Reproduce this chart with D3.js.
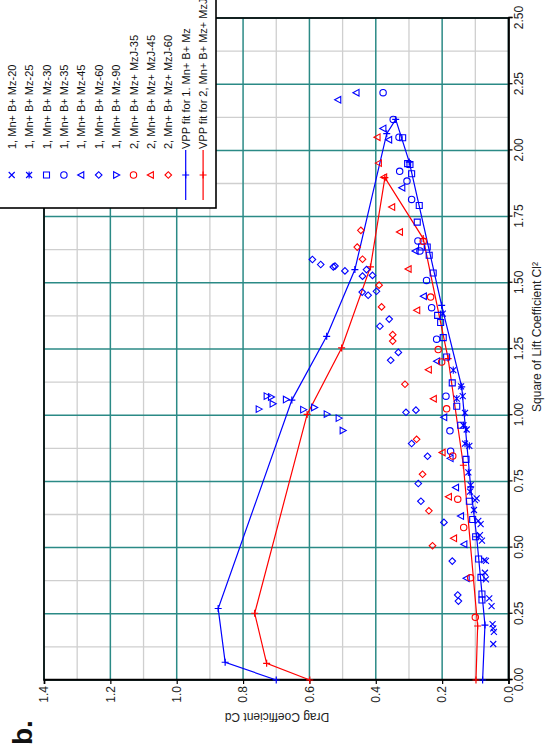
<!DOCTYPE html>
<html>
<head>
<meta charset="utf-8">
<script src="https://cdn.jsdelivr.net/npm/d3@7"></script>
<style>
  html, body { margin: 0; padding: 0; background: #fff; }
  svg { display: block; font-family: "Liberation Sans", Arial, sans-serif; }
</style>
</head>
<body>
<svg id="chart" width="556" height="747"></svg>
<script>
// ---- tick values ----
const cl2Ticks = [0, 0.25, 0.5, 0.75, 1.0, 1.25, 1.5, 1.75, 2.0, 2.25, 2.5];
const cl2Minor = [0.125, 0.375, 0.625, 0.875, 1.125, 1.375, 1.625, 1.875, 2.125, 2.375];
const cdTicks = [0, 0.2, 0.4, 0.6, 0.8, 1.0, 1.2, 1.4];
const cdMinor = [0.1, 0.3, 0.5, 0.7, 0.9, 1.1, 1.3];

// ---- measured points: [Cl², Cd] ----
const mz20 = [[0.679,0.101],[0.686,0.096],[0.601,0.091],[0.589,0.084],[0.547,0.086],[0.526,0.080],
  [0.453,0.073],[0.450,0.068],[0.405,0.071],[0.380,0.068],[0.308,0.058],[0.279,0.051],
  [0.211,0.048],[0.195,0.046],[0.182,0.044],[0.136,0.046]];
const mz25 = [[1.384,0.198],[1.170,0.1665],[1.109,0.143],[1.063,0.156],[1.072,0.138],[1.009,0.131],
  [0.962,0.136],[0.946,0.126],[0.893,0.131],[0.884,0.118],[0.784,0.121],[0.736,0.114],
  [0.711,0.116],[0.642,0.104]];
const mz30 = [[2.048,0.319],[1.950,0.304],[1.947,0.297],[1.912,0.292],[1.792,0.269],[1.729,0.275],
  [1.635,0.262],[1.635,0.245],[1.604,0.239],[1.537,0.227],[1.377,0.2136],[1.350,0.2045],
  [1.293,0.1967],[1.220,0.1865],[1.122,0.1695],[1.034,0.156],[0.962,0.144],[0.833,0.128],
  [0.675,0.118],[0.606,0.108],[0.541,0.099],[0.457,0.090],[0.3875,0.083],[0.3245,0.080],[0.302,0.080]];
const mz35 = [[2.218,0.378],[2.117,0.3475],[2.050,0.330],[1.921,0.328],[1.884,0.306],[1.815,0.292],
  [1.658,0.273],[1.620,0.267],[1.509,0.247],[1.406,0.2317],[1.287,0.2166],[1.072,0.1885],
  [0.941,0.1765],[0.864,0.1745]];
const mz45 = [[2.191,0.513],[2.218,0.458],[2.083,0.377],[2.040,0.3596],[1.859,0.320],[1.620,0.280],
  [1.449,0.255],[1.204,0.215],[0.992,0.1936],[0.837,0.1745],[0.727,0.158],[0.619,0.143],
  [0.513,0.133],[0.384,0.126]];
const mz60 = [[1.588,0.591],[1.569,0.566],[1.560,0.528],[1.563,0.523],[1.545,0.493],[1.550,0.428],
  [1.525,0.440],[1.528,0.410],[1.465,0.441],[1.453,0.423],[1.468,0.398],[1.363,0.3596],
  [1.336,0.3876],[1.237,0.332],[1.2075,0.355],[1.019,0.279],[1.011,0.309],[0.893,0.292],
  [0.845,0.244],[0.742,0.272],[0.675,0.264],[0.595,0.1946],[0.449,0.1695],[0.321,0.153],[0.298,0.151]];
const mz90 = [[1.072,0.729],[1.069,0.716],[1.043,0.711],[1.023,0.753],[1.059,0.671],[1.021,0.619],
  [1.029,0.586],[1.004,0.548],[0.989,0.512],[0.942,0.500]];
const mzj35 = [[1.657,0.257],[1.446,0.2347],[1.248,0.2118],[1.201,0.2015],[1.024,0.1865],[0.846,0.168],
  [0.683,0.153],[0.576,0.135],[0.386,0.114],[0.2366,0.100]];
const mzj45 = [[2.050,0.3946],[1.952,0.3906],[1.899,0.3747],[1.786,0.3505],[1.692,0.327],[1.552,0.301],
  [1.396,0.275],[1.172,0.240],[1.062,0.225],[0.859,0.1986],[0.692,0.1795],[0.535,0.164]];
const mzj60 = [[1.698,0.445],[1.635,0.456],[1.589,0.440],[1.491,0.390],[1.409,0.3825],[1.304,0.349],
  [1.280,0.349],[1.117,0.312],[0.909,0.277],[0.777,0.259],[0.639,0.240],[0.507,0.229]];

// ---- VPP fitted curves: [Cl², Cd] in drawing order ----
const vpp1 = [[0,0.70],[0.067,0.854],[0.27,0.875],[1.057,0.653],[1.298,0.548],[1.55,0.463],
  [2.063,0.367],[2.117,0.340],[1.956,0.299],[1.415,0.2015],[1.107,0.141],[0.729,0.114],
  [0.541,0.096],[0.2075,0.071],[0,0.078]];
const vpp2 = [[0,0.599],[0.063,0.729],[0.252,0.765],[1.003,0.607],[1.254,0.503],[1.56,0.416],
  [1.897,0.3725],[1.667,0.257],[1.214,0.182],[0.811,0.136],[0.204,0.093],[0,0.098]];

const BLUE = "#0000ff", RED = "#ff0000";
const GRID_MAJOR = "#2b8a86", GRID_MINOR = "#cfcfcf";

// marker outlines, centred on 0,0
const shapes = {
  x: r => `M${-r},${-r}L${r},${r}M${-r},${r}L${r},${-r}`,
  asterisk: r => `M${-r},${-r}L${r},${r}M${-r},${r}L${r},${-r}M${-r*1.2},0L${r*1.2},0`,
  square: r => `M${-r},${-r}H${r}V${r}H${-r}Z`,
  circle: r => `M${r},0A${r},${r} 0 1,1 ${-r},0A${r},${r} 0 1,1 ${r},0Z`,
  triUp: r => `M0,${-r*1.1}L${r},${r*0.75}L${-r},${r*0.75}Z`,
  triDown: r => `M0,${r*1.1}L${r},${-r*0.75}L${-r},${-r*0.75}Z`,
  diamond: r => `M0,${-r}L${r},0L0,${r}L${-r},0Z`,
  plus: r => `M${-r},0H${r}M0,${-r}V${r}`
};

const series = [
  {label: "1, Mn+ B+ Mz-20", data: mz20, shape: "x", size: 3, color: BLUE},
  {label: "1, Mn+ B+ Mz-25", data: mz25, shape: "asterisk", size: 3, color: BLUE},
  {label: "1, Mn+ B+ Mz-30", data: mz30, shape: "square", size: 3, color: BLUE},
  {label: "1, Mn+ B+ Mz-35", data: mz35, shape: "circle", size: 3.2, color: BLUE},
  {label: "1, Mn+ B+ Mz-45", data: mz45, shape: "triUp", size: 3.3, color: BLUE},
  {label: "1, Mn+ B+ Mz-60", data: mz60, shape: "diamond", size: 3.3, color: BLUE},
  {label: "1, Mn+ B+ Mz-90", data: mz90, shape: "triDown", size: 3.3, color: BLUE},
  {label: "2, Mn+ B+ Mz+ MzJ-35", data: mzj35, shape: "circle", size: 3.2, color: RED},
  {label: "2, Mn+ B+ Mz+ MzJ-45", data: mzj45, shape: "triUp", size: 3.3, color: RED},
  {label: "2, Mn+ B+ Mz+ MzJ-60", data: mzj60, shape: "diamond", size: 3.3, color: RED}
];
const fits = [
  {label: "VPP fit for 1. Mn+ B+ Mz", data: vpp1, color: BLUE},
  {label: "VPP fit for 2, Mn+ B+ Mz+ MzJ", data: vpp2, color: RED}
];

// The chart is laid out in its own frame (Cl² across, Cd up) and turned a quarter turn.
const svg = d3.select("#chart");
const g = svg.append("g").attr("transform", "translate(0,747) rotate(-90)");

const x = d3.scaleLinear().domain([0, 2.5]).range([67, 729]);
const y = d3.scaleLinear().domain([0, 1.4]).range([508.5, 44]);
const [x0, x1] = x.range(), [y0, y1] = y.range();

// grid
const grid = g.append("g");
grid.selectAll(".vmin").data(cl2Minor).join("line")
  .attr("x1", d => x(d)).attr("x2", d => x(d)).attr("y1", y0).attr("y2", y1)
  .attr("stroke", GRID_MINOR).attr("stroke-width", 1.3);
grid.selectAll(".hmin").data(cdMinor).join("line").attr("class", "hmin")
  .attr("y1", d => y(d)).attr("y2", d => y(d)).attr("x1", x0).attr("x2", x1)
  .attr("stroke", GRID_MINOR).attr("stroke-width", 1.3);
grid.selectAll(".vmaj").data(cl2Ticks).join("line").attr("class", "vmaj")
  .attr("x1", d => x(d)).attr("x2", d => x(d)).attr("y1", y0).attr("y2", y1)
  .attr("stroke", GRID_MAJOR).attr("stroke-width", 1.5);
grid.selectAll(".hmaj").data(cdTicks).join("line").attr("class", "hmaj")
  .attr("y1", d => y(d)).attr("y2", d => y(d)).attr("x1", x0).attr("x2", x1)
  .attr("stroke", GRID_MAJOR).attr("stroke-width", 1.5);

// frame
g.append("rect").attr("x", x0).attr("y", y1).attr("width", x1 - x0).attr("height", y0 - y1)
  .attr("fill", "none").attr("stroke", "#000").attr("stroke-width", 1.6);

// axes
const xAxis = g.append("g").attr("transform", `translate(0,${y0})`)
  .call(d3.axisBottom(x).tickValues(cl2Ticks).tickFormat(d3.format(".2f")).tickSize(4).tickPadding(2));
const yAxis = g.append("g").attr("transform", `translate(${x0},0)`)
  .call(d3.axisLeft(y).tickValues(cdTicks).tickFormat(d3.format(".1f")).tickSize(4).tickPadding(2));
[xAxis, yAxis].forEach(a => {
  a.select(".domain").attr("stroke", "#000").attr("stroke-width", 1.6);
  a.selectAll(".tick line").attr("stroke", "#000").attr("stroke-width", 1.2);
  a.selectAll(".tick text").attr("font-size", 12).attr("fill", "#222")
    .attr("font-family", "'Liberation Sans', Arial, sans-serif");
});

g.append("text").attr("x", 410).attr("y", 541).attr("text-anchor", "middle")
  .attr("font-size", 12).attr("fill", "#222")
  .text("Square of Lift Coefficient Cl²");
g.append("text").attr("transform", "translate(34,277) rotate(-90)").attr("text-anchor", "middle")
  .attr("font-size", 12).attr("fill", "#222")
  .text("Drag Coefficient Cd");
g.append("text").attr("x", 2).attr("y", 32).attr("font-size", 28).attr("font-weight", "bold")
  .attr("fill", "#111").text("b.");

// fitted VPP curves
const line = d3.line().x(d => x(d[0])).y(d => y(d[1]));
fits.forEach(f => {
  g.append("path").datum(f.data).attr("d", line).attr("fill", "none")
    .attr("stroke", f.color).attr("stroke-width", 1.2);
  g.selectAll(null).data(f.data).join("path")
    .attr("transform", d => `translate(${x(d[0])},${y(d[1])})`)
    .attr("d", shapes.plus(3.5)).attr("stroke", f.color).attr("stroke-width", 1.2).attr("fill", "none");
});

// measured points
series.forEach(s => {
  g.append("g").selectAll("path").data(s.data).join("path")
    .attr("transform", d => `translate(${x(d[0])},${y(d[1])})`)
    .attr("d", shapes[s.shape](s.size)).attr("fill", "none")
    .attr("stroke", s.color).attr("stroke-width", 1.1);
});

// legend
const lg = g.append("g");
lg.append("rect").attr("x", 539).attr("y", -3).attr("width", 212).attr("height", 219)
  .attr("fill", "#fff").attr("stroke", "#000").attr("stroke-width", 1.6);
const entries = series.map(s => ({...s, isLine: false}))
  .concat(fits.map(f => ({...f, isLine: true})));
entries.forEach((e, i) => {
  const cy = 11.7 + 17.4 * i;
  if (e.isLine) {
    lg.append("line").attr("x1", 547).attr("x2", 597).attr("y1", cy).attr("y2", cy)
      .attr("stroke", e.color).attr("stroke-width", 1.2);
    lg.append("path").attr("transform", `translate(572,${cy})`).attr("d", shapes.plus(3.5))
      .attr("stroke", e.color).attr("stroke-width", 1.2).attr("fill", "none");
  } else {
    lg.append("path").attr("transform", `translate(572,${cy})`).attr("d", shapes[e.shape](e.size))
      .attr("stroke", e.color).attr("stroke-width", 1.1).attr("fill", "none");
  }
  lg.append("text").attr("x", 598).attr("y", cy + 4).attr("font-size", 11).attr("fill", "#111")
    .text(e.label);
});
</script>
</body>
</html>
